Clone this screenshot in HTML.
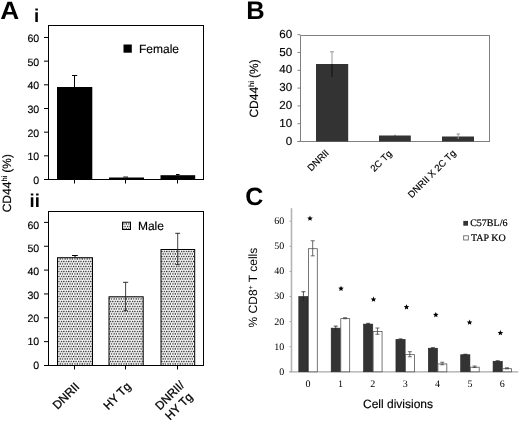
<!DOCTYPE html>
<html><head><meta charset="utf-8"><style>
html,body{margin:0;padding:0;background:#fff;}
svg{display:block;will-change:transform;text-rendering:geometricPrecision;}
</style></head><body>
<svg width="520" height="422" viewBox="0 0 520 422">
<rect width="520" height="422" fill="#fff"/>
<text transform="translate(0.3,18.8) scale(1.05,1)" font-family='"Liberation Sans", sans-serif' font-size="25" font-weight="bold">A</text>
<text x="34.0" y="21.9" font-family='"Liberation Sans", sans-serif' font-size="18.6" text-anchor="start" font-weight="bold" fill="#000" >i</text>
<text x="246.2" y="19.0" font-family='"Liberation Sans", sans-serif' font-size="25.5" text-anchor="start" font-weight="bold" fill="#000" >B</text>
<text x="245.3" y="204.8" font-family='"Liberation Sans", sans-serif' font-size="25" text-anchor="start" font-weight="bold" fill="#000" >C</text>
<text x="29.6" y="207.2" font-family='"Liberation Sans", sans-serif' font-size="18.5" text-anchor="start" font-weight="bold" fill="#000" >ii</text>
<line x1="48.5" y1="25.5" x2="203.5" y2="25.5" stroke="#000" stroke-width="1"/>
<line x1="48.5" y1="25.0" x2="48.5" y2="180.0" stroke="#000" stroke-width="1"/>
<line x1="203.5" y1="25.0" x2="203.5" y2="180.0" stroke="#000" stroke-width="1"/>
<line x1="44" y1="179.5" x2="204.0" y2="179.5" stroke="#000" stroke-width="1"/>
<line x1="44" y1="179.5" x2="48.5" y2="179.5" stroke="#000" stroke-width="1"/>
<text x="39.2" y="184.1" font-family='"Liberation Sans", sans-serif' font-size="10.6" text-anchor="end" font-weight="normal" fill="#000" stroke="#000" stroke-width="0.15" >0</text>
<line x1="44" y1="155.82999999999998" x2="48.5" y2="155.82999999999998" stroke="#000" stroke-width="1"/>
<text x="39.2" y="160.42999999999998" font-family='"Liberation Sans", sans-serif' font-size="10.6" text-anchor="end" font-weight="normal" fill="#000" stroke="#000" stroke-width="0.15" >10</text>
<line x1="44" y1="132.16" x2="48.5" y2="132.16" stroke="#000" stroke-width="1"/>
<text x="39.2" y="136.76" font-family='"Liberation Sans", sans-serif' font-size="10.6" text-anchor="end" font-weight="normal" fill="#000" stroke="#000" stroke-width="0.15" >20</text>
<line x1="44" y1="108.49" x2="48.5" y2="108.49" stroke="#000" stroke-width="1"/>
<text x="39.2" y="113.08999999999999" font-family='"Liberation Sans", sans-serif' font-size="10.6" text-anchor="end" font-weight="normal" fill="#000" stroke="#000" stroke-width="0.15" >30</text>
<line x1="44" y1="84.82" x2="48.5" y2="84.82" stroke="#000" stroke-width="1"/>
<text x="39.2" y="89.41999999999999" font-family='"Liberation Sans", sans-serif' font-size="10.6" text-anchor="end" font-weight="normal" fill="#000" stroke="#000" stroke-width="0.15" >40</text>
<line x1="44" y1="61.14999999999999" x2="48.5" y2="61.14999999999999" stroke="#000" stroke-width="1"/>
<text x="39.2" y="65.74999999999999" font-family='"Liberation Sans", sans-serif' font-size="10.6" text-anchor="end" font-weight="normal" fill="#000" stroke="#000" stroke-width="0.15" >50</text>
<line x1="44" y1="37.47999999999999" x2="48.5" y2="37.47999999999999" stroke="#000" stroke-width="1"/>
<text x="39.2" y="42.07999999999999" font-family='"Liberation Sans", sans-serif' font-size="10.6" text-anchor="end" font-weight="normal" fill="#000" stroke="#000" stroke-width="0.15" >60</text>
<rect x="57" y="87" width="35.3" height="92.5" fill="#000" stroke="none" stroke-width="1"/>
<line x1="74.5" y1="75.3" x2="74.5" y2="87" stroke="#000" stroke-width="1"/>
<line x1="72" y1="75.5" x2="77.2" y2="75.5" stroke="#000" stroke-width="1"/>
<rect x="109" y="177.5" width="35" height="2.0" fill="#000" stroke="none" stroke-width="1"/>
<rect x="160.5" y="175.2" width="34.7" height="4.300000000000011" fill="#000" stroke="none" stroke-width="1"/>
<line x1="177.8" y1="174.3" x2="177.8" y2="175.5" stroke="#000" stroke-width="1"/>
<line x1="176" y1="174.5" x2="179.6" y2="174.5" stroke="#000" stroke-width="1"/>
<line x1="74.5" y1="179.5" x2="74.5" y2="183.5" stroke="#000" stroke-width="1"/>
<line x1="125.5" y1="179.5" x2="125.5" y2="183.5" stroke="#000" stroke-width="1"/>
<line x1="177.5" y1="179.5" x2="177.5" y2="183.5" stroke="#000" stroke-width="1"/>
<line x1="123.3" y1="177.0" x2="128.0" y2="177.0" stroke="#000" stroke-width="0.9"/>
<rect x="123.5" y="44.5" width="8.3" height="8.2" fill="#000" stroke="none" stroke-width="1"/>
<text x="139.0" y="52.9" font-family='"Liberation Sans", sans-serif' font-size="12" text-anchor="start" font-weight="normal" fill="#000" stroke="#000" stroke-width="0.15" >Female</text>
<text transform="translate(10.9,212.3) rotate(-90)" font-family='"Liberation Sans", sans-serif' font-size="12" stroke="#000" stroke-width="0.15">CD44<tspan font-size="7.6" dy="-3.9">hi</tspan><tspan dy="3.9" dx="-0.3"> (%)</tspan></text>
<defs><pattern id="dots" x="2.0" y="0.8" width="2.45" height="5" patternUnits="userSpaceOnUse"><rect width="2.45" height="5" fill="#fff"/><circle cx="0.6" cy="0.6" r="0.76" fill="#000"/><circle cx="1.825" cy="3.1" r="0.76" fill="#000"/></pattern></defs>
<line x1="48.5" y1="211.5" x2="203.5" y2="211.5" stroke="#000" stroke-width="1"/>
<line x1="48.5" y1="211.0" x2="48.5" y2="366.0" stroke="#000" stroke-width="1"/>
<line x1="203.5" y1="211.0" x2="203.5" y2="366.0" stroke="#000" stroke-width="1"/>
<line x1="44" y1="365.5" x2="204.0" y2="365.5" stroke="#000" stroke-width="1"/>
<line x1="44" y1="365.5" x2="48.5" y2="365.5" stroke="#000" stroke-width="1"/>
<text x="39.2" y="368.6" font-family='"Liberation Sans", sans-serif' font-size="10.6" text-anchor="end" font-weight="normal" fill="#000" stroke="#000" stroke-width="0.15" >0</text>
<line x1="44" y1="341.65" x2="48.5" y2="341.65" stroke="#000" stroke-width="1"/>
<text x="39.2" y="345.27000000000004" font-family='"Liberation Sans", sans-serif' font-size="10.6" text-anchor="end" font-weight="normal" fill="#000" stroke="#000" stroke-width="0.15" >10</text>
<line x1="44" y1="317.8" x2="48.5" y2="317.8" stroke="#000" stroke-width="1"/>
<text x="39.2" y="321.94000000000005" font-family='"Liberation Sans", sans-serif' font-size="10.6" text-anchor="end" font-weight="normal" fill="#000" stroke="#000" stroke-width="0.15" >20</text>
<line x1="44" y1="293.95" x2="48.5" y2="293.95" stroke="#000" stroke-width="1"/>
<text x="39.2" y="298.61" font-family='"Liberation Sans", sans-serif' font-size="10.6" text-anchor="end" font-weight="normal" fill="#000" stroke="#000" stroke-width="0.15" >30</text>
<line x1="44" y1="270.1" x2="48.5" y2="270.1" stroke="#000" stroke-width="1"/>
<text x="39.2" y="275.28000000000003" font-family='"Liberation Sans", sans-serif' font-size="10.6" text-anchor="end" font-weight="normal" fill="#000" stroke="#000" stroke-width="0.15" >40</text>
<line x1="44" y1="246.25" x2="48.5" y2="246.25" stroke="#000" stroke-width="1"/>
<text x="39.2" y="251.95000000000005" font-family='"Liberation Sans", sans-serif' font-size="10.6" text-anchor="end" font-weight="normal" fill="#000" stroke="#000" stroke-width="0.15" >50</text>
<line x1="44" y1="222.39999999999998" x2="48.5" y2="222.39999999999998" stroke="#000" stroke-width="1"/>
<text x="39.2" y="228.62000000000003" font-family='"Liberation Sans", sans-serif' font-size="10.6" text-anchor="end" font-weight="normal" fill="#000" stroke="#000" stroke-width="0.15" >60</text>
<rect x="57.5" y="257.7" width="35" height="107.80000000000001" fill="url(#dots)" stroke="#000" stroke-width="1"/>
<line x1="75" y1="255.3" x2="75" y2="257.2" stroke="#000" stroke-width="1"/>
<line x1="72" y1="255.5" x2="77.8" y2="255.5" stroke="#000" stroke-width="1"/>
<rect x="109.0" y="296.8" width="34.19999999999999" height="68.69999999999999" fill="url(#dots)" stroke="#000" stroke-width="1"/>
<line x1="125.6" y1="282" x2="125.6" y2="311" stroke="#222" stroke-width="0.85"/>
<line x1="123" y1="282.3" x2="128.2" y2="282.3" stroke="#222" stroke-width="0.9"/>
<line x1="123.5" y1="310.7" x2="127.7" y2="310.7" stroke="#222" stroke-width="0.9"/>
<rect x="161.0" y="249.5" width="33.69999999999999" height="116.0" fill="url(#dots)" stroke="#000" stroke-width="1"/>
<line x1="177.7" y1="233" x2="177.7" y2="265" stroke="#222" stroke-width="0.85"/>
<line x1="175.2" y1="233.3" x2="180.2" y2="233.3" stroke="#222" stroke-width="0.9"/>
<line x1="175.7" y1="264.7" x2="179.7" y2="264.7" stroke="#222" stroke-width="0.9"/>
<line x1="74.5" y1="365.5" x2="74.5" y2="369.5" stroke="#000" stroke-width="1"/>
<line x1="125.5" y1="365.5" x2="125.5" y2="369.5" stroke="#000" stroke-width="1"/>
<line x1="177.5" y1="365.5" x2="177.5" y2="369.5" stroke="#000" stroke-width="1"/>
<rect x="122.5" y="222.2" width="8" height="7.3" fill="url(#dots)" stroke="#000" stroke-width="1"/>
<text x="137.9" y="229.5" font-family='"Liberation Sans", sans-serif' font-size="12" text-anchor="start" font-weight="normal" fill="#000" stroke="#000" stroke-width="0.15" >Male</text>
<text transform="translate(80.2,387.3) rotate(-45)" font-family='"Liberation Sans", sans-serif' font-size="11.8" text-anchor="end" stroke="#000" stroke-width="0.3">DNRII</text>
<text transform="translate(131.6,387.2) rotate(-45)" font-family='"Liberation Sans", sans-serif' font-size="11.8" text-anchor="end" stroke="#000" stroke-width="0.3">HY Tg</text>
<text transform="translate(185.0,385.8) rotate(-45)" font-family='"Liberation Sans", sans-serif' font-size="11.8" text-anchor="end" stroke="#000" stroke-width="0.3">DNRII/</text>
<text transform="translate(193.4,397.5) rotate(-45)" font-family='"Liberation Sans", sans-serif' font-size="11.8" text-anchor="end" stroke="#000" stroke-width="0.3">HY Tg</text>
<line x1="300.5" y1="35.5" x2="490.0" y2="35.5" stroke="#808080" stroke-width="1"/>
<line x1="300.5" y1="35.5" x2="300.5" y2="142.0" stroke="#808080" stroke-width="1"/>
<line x1="489.5" y1="35.5" x2="489.5" y2="142.0" stroke="#808080" stroke-width="1"/>
<line x1="297.5" y1="141.5" x2="490.0" y2="141.5" stroke="#808080" stroke-width="1"/>
<line x1="297.5" y1="141.5" x2="300.5" y2="141.5" stroke="#808080" stroke-width="1"/>
<text x="292.2" y="144.5" font-family='"Liberation Sans", sans-serif' font-size="11.6" text-anchor="end" font-weight="normal" fill="#000" stroke="#000" stroke-width="0.15" >0</text>
<line x1="297.5" y1="123.7" x2="300.5" y2="123.7" stroke="#808080" stroke-width="1"/>
<text x="292.2" y="126.7" font-family='"Liberation Sans", sans-serif' font-size="11.6" text-anchor="end" font-weight="normal" fill="#000" stroke="#000" stroke-width="0.15" >10</text>
<line x1="297.5" y1="105.9" x2="300.5" y2="105.9" stroke="#808080" stroke-width="1"/>
<text x="292.2" y="108.9" font-family='"Liberation Sans", sans-serif' font-size="11.6" text-anchor="end" font-weight="normal" fill="#000" stroke="#000" stroke-width="0.15" >20</text>
<line x1="297.5" y1="88.1" x2="300.5" y2="88.1" stroke="#808080" stroke-width="1"/>
<text x="292.2" y="91.1" font-family='"Liberation Sans", sans-serif' font-size="11.6" text-anchor="end" font-weight="normal" fill="#000" stroke="#000" stroke-width="0.15" >30</text>
<line x1="297.5" y1="70.3" x2="300.5" y2="70.3" stroke="#808080" stroke-width="1"/>
<text x="292.2" y="73.3" font-family='"Liberation Sans", sans-serif' font-size="11.6" text-anchor="end" font-weight="normal" fill="#000" stroke="#000" stroke-width="0.15" >40</text>
<line x1="297.5" y1="52.5" x2="300.5" y2="52.5" stroke="#808080" stroke-width="1"/>
<text x="292.2" y="55.5" font-family='"Liberation Sans", sans-serif' font-size="11.6" text-anchor="end" font-weight="normal" fill="#000" stroke="#000" stroke-width="0.15" >50</text>
<line x1="297.5" y1="34.69999999999999" x2="300.5" y2="34.69999999999999" stroke="#808080" stroke-width="1"/>
<text x="292.2" y="37.69999999999999" font-family='"Liberation Sans", sans-serif' font-size="11.6" text-anchor="end" font-weight="normal" fill="#000" stroke="#000" stroke-width="0.15" >60</text>
<rect x="316" y="64" width="32.2" height="77.5" fill="#333" stroke="none" stroke-width="1"/>
<line x1="332" y1="51.5" x2="332" y2="64" stroke="#999" stroke-width="1"/>
<line x1="332" y1="64" x2="332" y2="77" stroke="#111" stroke-width="1"/>
<line x1="330" y1="51.8" x2="334" y2="51.8" stroke="#999" stroke-width="1"/>
<rect x="379" y="135.5" width="31.8" height="6.0" fill="#333" stroke="none" stroke-width="1"/>
<line x1="395" y1="134.8" x2="395" y2="135.5" stroke="#111" stroke-width="1"/>
<rect x="442" y="136.5" width="32" height="5.0" fill="#333" stroke="none" stroke-width="1"/>
<line x1="458.2" y1="133.8" x2="458.2" y2="139" stroke="#999" stroke-width="1"/>
<line x1="456.5" y1="134" x2="460" y2="134" stroke="#999" stroke-width="1"/>
<text transform="translate(329.5,153.5) rotate(-45)" font-family='"Liberation Sans", sans-serif' font-size="9.5" text-anchor="end" stroke="#000" stroke-width="0.15">DNRII</text>
<text transform="translate(392.5,154.2) rotate(-45)" font-family='"Liberation Sans", sans-serif' font-size="9.5" text-anchor="end" stroke="#000" stroke-width="0.15">2C Tg</text>
<text transform="translate(456.4,153.7) rotate(-45)" font-family='"Liberation Sans", sans-serif' font-size="9.5" text-anchor="end" stroke="#000" stroke-width="0.15">DNRII X 2C Tg</text>
<text transform="translate(258.0,117.6) rotate(-90)" font-family='"Liberation Sans", sans-serif' font-size="12" stroke="#000" stroke-width="0.15">CD44<tspan font-size="7.6" dy="-3.9">hi</tspan><tspan dy="3.9" dx="-0.3"> (%)</tspan></text>
<line x1="291.5" y1="208.2" x2="291.5" y2="371.8" stroke="#b4b4b4" stroke-width="1.6"/>
<line x1="289.5" y1="371.8" x2="518.3" y2="371.8" stroke="#a8a8a8" stroke-width="1.2"/>
<line x1="289.5" y1="371.8" x2="291.5" y2="371.8" stroke="#a8a8a8" stroke-width="1"/>
<text x="284.2" y="374.7" font-family='"Liberation Serif", serif' font-size="10" text-anchor="end" font-weight="normal" fill="#000" >0</text>
<line x1="289.5" y1="346.7" x2="291.5" y2="346.7" stroke="#a8a8a8" stroke-width="1"/>
<text x="284.2" y="349.59999999999997" font-family='"Liberation Serif", serif' font-size="10" text-anchor="end" font-weight="normal" fill="#000" >10</text>
<line x1="289.5" y1="321.6" x2="291.5" y2="321.6" stroke="#a8a8a8" stroke-width="1"/>
<text x="284.2" y="324.5" font-family='"Liberation Serif", serif' font-size="10" text-anchor="end" font-weight="normal" fill="#000" >20</text>
<line x1="289.5" y1="296.5" x2="291.5" y2="296.5" stroke="#a8a8a8" stroke-width="1"/>
<text x="284.2" y="299.4" font-family='"Liberation Serif", serif' font-size="10" text-anchor="end" font-weight="normal" fill="#000" >30</text>
<line x1="289.5" y1="271.40000000000003" x2="291.5" y2="271.40000000000003" stroke="#a8a8a8" stroke-width="1"/>
<text x="284.2" y="274.3" font-family='"Liberation Serif", serif' font-size="10" text-anchor="end" font-weight="normal" fill="#000" >40</text>
<line x1="289.5" y1="246.3" x2="291.5" y2="246.3" stroke="#a8a8a8" stroke-width="1"/>
<text x="284.2" y="249.20000000000002" font-family='"Liberation Serif", serif' font-size="10" text-anchor="end" font-weight="normal" fill="#000" >50</text>
<line x1="289.5" y1="221.20000000000002" x2="291.5" y2="221.20000000000002" stroke="#a8a8a8" stroke-width="1"/>
<text x="284.2" y="224.10000000000002" font-family='"Liberation Serif", serif' font-size="10" text-anchor="end" font-weight="normal" fill="#000" >60</text>
<rect x="298.8" y="296.5" width="9.2" height="75.30000000000001" fill="#333" stroke="#222" stroke-width="0.6"/>
<rect x="308.4" y="248.70800000000003" width="8.9" height="123.09199999999998" fill="#fff" stroke="#555" stroke-width="0.8"/>
<line x1="303.4" y1="291.731" x2="303.4" y2="301.269" stroke="#222" stroke-width="0.8"/>
<line x1="301.4" y1="291.731" x2="305.4" y2="291.731" stroke="#222" stroke-width="0.8"/>
<line x1="312.7" y1="240.77800000000002" x2="312.7" y2="255.83800000000002" stroke="#444" stroke-width="0.8"/>
<line x1="310.7" y1="240.77800000000002" x2="314.7" y2="240.77800000000002" stroke="#444" stroke-width="0.8"/>
<line x1="310.7" y1="255.83800000000002" x2="314.7" y2="255.83800000000002" stroke="#444" stroke-width="0.8"/>
<text x="308.0" y="386.9" font-family='"Liberation Serif", serif' font-size="10" text-anchor="middle" font-weight="normal" fill="#000" >0</text>
<rect x="331.18" y="328.12600000000003" width="9.2" height="43.67399999999998" fill="#333" stroke="#222" stroke-width="0.6"/>
<rect x="340.78" y="318.6115" width="8.9" height="53.18850000000001" fill="#fff" stroke="#555" stroke-width="0.8"/>
<line x1="335.78" y1="326.11800000000005" x2="335.78" y2="330.134" stroke="#222" stroke-width="0.8"/>
<line x1="333.78" y1="326.11800000000005" x2="337.78" y2="326.11800000000005" stroke="#222" stroke-width="0.8"/>
<line x1="345.08" y1="317.7095" x2="345.08" y2="318.7135" stroke="#444" stroke-width="0.8"/>
<line x1="343.08" y1="317.7095" x2="347.08" y2="317.7095" stroke="#444" stroke-width="0.8"/>
<line x1="343.08" y1="318.7135" x2="347.08" y2="318.7135" stroke="#444" stroke-width="0.8"/>
<text x="340.38" y="386.9" font-family='"Liberation Serif", serif' font-size="10" text-anchor="middle" font-weight="normal" fill="#000" >1</text>
<rect x="363.56" y="324.11" width="9.2" height="47.69" fill="#333" stroke="#222" stroke-width="0.6"/>
<rect x="373.15999999999997" y="331.538" width="8.9" height="40.26199999999998" fill="#fff" stroke="#555" stroke-width="0.8"/>
<line x1="368.15999999999997" y1="323.357" x2="368.15999999999997" y2="324.863" stroke="#222" stroke-width="0.8"/>
<line x1="366.15999999999997" y1="323.357" x2="370.15999999999997" y2="323.357" stroke="#222" stroke-width="0.8"/>
<line x1="377.46" y1="328.00050000000005" x2="377.46" y2="334.2755" stroke="#444" stroke-width="0.8"/>
<line x1="375.46" y1="328.00050000000005" x2="379.46" y2="328.00050000000005" stroke="#444" stroke-width="0.8"/>
<line x1="375.46" y1="334.2755" x2="379.46" y2="334.2755" stroke="#444" stroke-width="0.8"/>
<text x="372.76" y="386.9" font-family='"Liberation Serif", serif' font-size="10" text-anchor="middle" font-weight="normal" fill="#000" >2</text>
<rect x="395.94" y="339.421" width="9.2" height="32.37900000000002" fill="#333" stroke="#222" stroke-width="0.6"/>
<rect x="405.53999999999996" y="354.63" width="8.9" height="17.169999999999995" fill="#fff" stroke="#555" stroke-width="0.8"/>
<line x1="400.53999999999996" y1="338.919" x2="400.53999999999996" y2="339.923" stroke="#222" stroke-width="0.8"/>
<line x1="398.53999999999996" y1="338.919" x2="402.53999999999996" y2="338.919" stroke="#222" stroke-width="0.8"/>
<line x1="409.84" y1="351.72" x2="409.84" y2="356.74" stroke="#444" stroke-width="0.8"/>
<line x1="407.84" y1="351.72" x2="411.84" y2="351.72" stroke="#444" stroke-width="0.8"/>
<line x1="407.84" y1="356.74" x2="411.84" y2="356.74" stroke="#444" stroke-width="0.8"/>
<text x="405.14" y="386.9" font-family='"Liberation Serif", serif' font-size="10" text-anchor="middle" font-weight="normal" fill="#000" >3</text>
<rect x="428.32" y="348.206" width="9.2" height="23.593999999999994" fill="#333" stroke="#222" stroke-width="0.6"/>
<rect x="437.91999999999996" y="363.917" width="8.9" height="7.883000000000015" fill="#fff" stroke="#555" stroke-width="0.8"/>
<line x1="432.91999999999996" y1="347.704" x2="432.91999999999996" y2="348.708" stroke="#222" stroke-width="0.8"/>
<line x1="430.91999999999996" y1="347.704" x2="434.91999999999996" y2="347.704" stroke="#222" stroke-width="0.8"/>
<line x1="442.21999999999997" y1="362.262" x2="442.21999999999997" y2="364.772" stroke="#444" stroke-width="0.8"/>
<line x1="440.21999999999997" y1="362.262" x2="444.21999999999997" y2="362.262" stroke="#444" stroke-width="0.8"/>
<line x1="440.21999999999997" y1="364.772" x2="444.21999999999997" y2="364.772" stroke="#444" stroke-width="0.8"/>
<text x="437.52" y="386.9" font-family='"Liberation Serif", serif' font-size="10" text-anchor="middle" font-weight="normal" fill="#000" >4</text>
<rect x="460.7" y="354.732" width="9.2" height="17.067999999999984" fill="#333" stroke="#222" stroke-width="0.6"/>
<rect x="470.29999999999995" y="367.18" width="8.9" height="4.6199999999999815" fill="#fff" stroke="#555" stroke-width="0.8"/>
<line x1="465.29999999999995" y1="354.23" x2="465.29999999999995" y2="355.23400000000004" stroke="#222" stroke-width="0.8"/>
<line x1="463.29999999999995" y1="354.23" x2="467.29999999999995" y2="354.23" stroke="#222" stroke-width="0.8"/>
<line x1="474.59999999999997" y1="366.02700000000004" x2="474.59999999999997" y2="367.533" stroke="#444" stroke-width="0.8"/>
<line x1="472.59999999999997" y1="366.02700000000004" x2="476.59999999999997" y2="366.02700000000004" stroke="#444" stroke-width="0.8"/>
<line x1="472.59999999999997" y1="367.533" x2="476.59999999999997" y2="367.533" stroke="#444" stroke-width="0.8"/>
<text x="469.9" y="386.9" font-family='"Liberation Serif", serif' font-size="10" text-anchor="middle" font-weight="normal" fill="#000" >5</text>
<rect x="493.08000000000004" y="361.25800000000004" width="9.2" height="10.541999999999973" fill="#333" stroke="#222" stroke-width="0.6"/>
<rect x="502.68" y="368.686" width="8.9" height="3.11400000000001" fill="#fff" stroke="#555" stroke-width="0.8"/>
<line x1="497.68" y1="360.75600000000003" x2="497.68" y2="361.76000000000005" stroke="#222" stroke-width="0.8"/>
<line x1="495.68" y1="360.75600000000003" x2="499.68" y2="360.75600000000003" stroke="#222" stroke-width="0.8"/>
<line x1="506.98" y1="367.784" x2="506.98" y2="368.788" stroke="#444" stroke-width="0.8"/>
<line x1="504.98" y1="367.784" x2="508.98" y2="367.784" stroke="#444" stroke-width="0.8"/>
<line x1="504.98" y1="368.788" x2="508.98" y2="368.788" stroke="#444" stroke-width="0.8"/>
<text x="502.28000000000003" y="386.9" font-family='"Liberation Serif", serif' font-size="10" text-anchor="middle" font-weight="normal" fill="#000" >6</text>
<polygon points="310.00,215.60 310.79,217.41 312.76,217.60 311.28,218.92 311.70,220.85 310.00,219.85 308.30,220.85 308.72,218.92 307.24,217.60 309.21,217.41" fill="#000"/>
<polygon points="341.00,285.80 341.79,287.61 343.76,287.80 342.28,289.12 342.70,291.05 341.00,290.05 339.30,291.05 339.72,289.12 338.24,287.80 340.21,287.61" fill="#000"/>
<polygon points="373.50,296.60 374.29,298.41 376.26,298.60 374.78,299.92 375.20,301.85 373.50,300.85 371.80,301.85 372.22,299.92 370.74,298.60 372.71,298.41" fill="#000"/>
<polygon points="406.50,304.30 407.29,306.11 409.26,306.30 407.78,307.62 408.20,309.55 406.50,308.55 404.80,309.55 405.22,307.62 403.74,306.30 405.71,306.11" fill="#000"/>
<polygon points="435.80,311.90 436.59,313.71 438.56,313.90 437.08,315.22 437.50,317.15 435.80,316.15 434.10,317.15 434.52,315.22 433.04,313.90 435.01,313.71" fill="#000"/>
<polygon points="469.60,319.60 470.39,321.41 472.36,321.60 470.88,322.92 471.30,324.85 469.60,323.85 467.90,324.85 468.32,322.92 466.84,321.60 468.81,321.41" fill="#000"/>
<polygon points="500.40,330.10 501.19,331.91 503.16,332.10 501.68,333.42 502.10,335.35 500.40,334.35 498.70,335.35 499.12,333.42 497.64,332.10 499.61,331.91" fill="#000"/>
<text x="363.0" y="408.0" font-family='"Liberation Sans", sans-serif' font-size="12" text-anchor="start" font-weight="normal" fill="#000" stroke="#000" stroke-width="0.15" >Cell divisions</text>
<text transform="translate(257.0,287.6) rotate(-90)" font-family='"Liberation Sans", sans-serif' font-size="12" text-anchor="middle">% CD8<tspan font-size="7" dy="-4.5">+</tspan><tspan dy="4.5"> T cells</tspan></text>
<rect x="463.3" y="220.9" width="4.7" height="4.8" fill="#333" stroke="none" stroke-width="1"/>
<text x="470.2" y="226.4" font-family='"Liberation Serif", serif' font-size="10" text-anchor="start" font-weight="normal" fill="#000" stroke="#000" stroke-width="0.2" >C57BL/6</text>
<rect x="463.7" y="235.8" width="4.6" height="4.2" fill="#fff" stroke="#555" stroke-width="0.8"/>
<text x="471.0" y="240.7" font-family='"Liberation Serif", serif' font-size="10" text-anchor="start" font-weight="normal" fill="#000" stroke="#000" stroke-width="0.2" >TAP KO</text>
</svg>
</body></html>
